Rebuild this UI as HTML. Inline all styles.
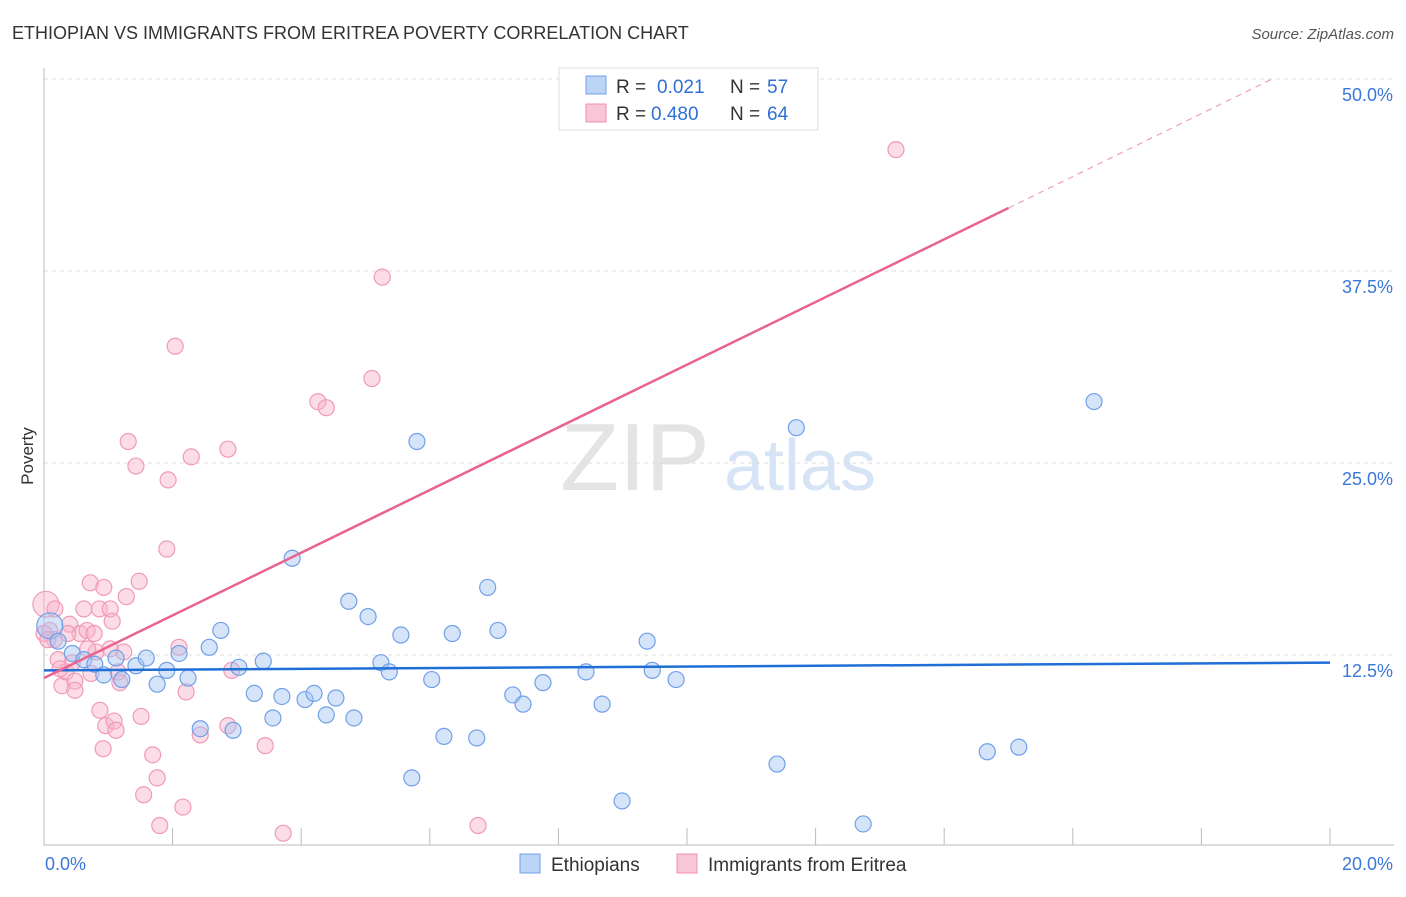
<!DOCTYPE html>
<html><head><meta charset="utf-8"><style>
body{margin:0;background:#fff;font-family:"Liberation Sans",sans-serif}
svg text{font-family:"Liberation Sans",sans-serif}
</style></head><body>
<svg id="chart" width="1406" height="892">
<text x="12" y="39" font-size="18" fill="#333">ETHIOPIAN VS IMMIGRANTS FROM ERITREA POVERTY CORRELATION CHART</text>
<text x="1394" y="39" font-size="15" fill="#555" text-anchor="end" font-style="italic">Source: ZipAtlas.com</text>
<text x="33" y="456" font-size="17" fill="#333" text-anchor="middle" transform="rotate(-90 33 456)">Poverty</text>
<g><text x="635" y="490" font-size="96" fill="#e4e4e4" text-anchor="middle" font-family="Liberation Serif">ZIP</text><text x="800" y="490" font-size="72" fill="#d6e4f5" text-anchor="middle">atlas</text></g>
<g id="grid"></g><g id="axes"></g><g id="pts"></g><g id="lines"></g>
<g>
<rect x="559" y="68" width="259" height="62" fill="#fff" stroke="#ddd"/>
<rect x="586" y="76" width="20" height="18" fill="#bcd4f6" stroke="#6fa0e8"/>
<text x="616" y="93" font-size="19" fill="#333">R =</text><text x="657" y="93" font-size="19" fill="#2f6fd6">0.021</text>
<text x="730" y="93" font-size="19" fill="#333">N =</text><text x="767" y="93" font-size="19" fill="#2f6fd6">57</text>
<rect x="586" y="104" width="20" height="18" fill="#f8c6d6" stroke="#f08fb0"/>
<text x="616" y="120" font-size="19" fill="#333">R =</text><text x="651" y="120" font-size="19" fill="#2f6fd6">0.480</text>
<text x="730" y="120" font-size="19" fill="#333">N =</text><text x="767" y="120" font-size="19" fill="#2f6fd6">64</text>
</g>
<g>
<rect x="520" y="854" width="20" height="19" fill="#bcd4f6" stroke="#6fa0e8"/>
<text x="551" y="871" font-size="19" fill="#333">Ethiopians</text>
<rect x="677" y="854" width="20" height="19" fill="#f8c6d6" stroke="#f08fb0"/>
<text x="708" y="871" font-size="19" fill="#333">Immigrants from Eritrea</text>
</g>
</svg>
<script>
const xTicks=[0,2,4,6,8,10,12,14,16,18,20];
const yTicks=[12.5,25,37.5,50];
const yTickLabels=["12.5%","25.0%","37.5%","50.0%"];
const blueX=[0.09,0.22,0.44,0.62,0.79,0.93,1.12,1.21,1.43,1.59,1.76,1.91,2.1,2.24,2.43,2.57,2.75,2.94,3.03,3.27,3.41,3.56,3.7,3.86,4.06,4.2,4.39,4.54,4.74,4.82,5.04,5.24,5.37,5.55,5.72,5.8,6.03,6.22,6.35,6.73,6.9,7.06,7.29,7.45,7.76,8.43,8.68,8.99,9.38,9.46,9.83,11.4,11.7,12.74,14.67,15.16,16.33];
const blueY=[14.4,13.4,12.6,12.2,11.9,11.2,12.3,10.9,11.8,12.3,10.6,11.5,12.6,11.0,7.7,13.0,14.1,7.6,11.7,10.0,12.1,8.4,9.8,18.8,9.6,10.0,8.6,9.7,16.0,8.4,15.0,12.0,11.4,13.8,4.5,26.4,10.9,7.2,13.9,7.1,16.9,14.1,9.9,9.3,10.7,11.4,9.3,3.0,13.4,11.5,10.9,5.4,27.3,1.5,6.2,6.5,29.0];
const pinkX=[0.03,0.09,0.16,0.22,0.28,0.34,0.40,0.44,0.48,0.56,0.62,0.67,0.72,0.73,0.78,0.81,0.86,0.87,0.92,0.93,0.96,1.03,1.06,1.09,1.12,1.15,1.18,1.24,1.28,1.31,1.43,1.48,1.51,1.55,1.69,1.76,1.8,1.91,1.93,2.04,2.1,2.16,2.21,2.29,2.43,2.86,2.86,2.92,3.44,3.72,4.26,4.39,5.1,5.26,6.75,13.25,0.0,0.06,0.25,0.48,0.68,0.37,1.03,0.17];
const pinkY=[15.8,14.1,13.5,12.2,10.5,11.4,14.5,12.0,10.8,13.9,15.5,14.1,17.2,11.3,13.9,12.7,15.5,8.9,6.4,16.9,7.9,15.5,14.7,8.2,7.6,11.4,10.7,12.7,16.3,26.4,24.8,17.3,8.5,3.4,6.0,4.5,1.4,19.4,23.9,32.6,13.0,2.6,10.1,25.4,7.3,25.9,7.9,11.5,6.6,0.9,28.99,28.6,30.5,37.1,1.4,45.4,13.9,13.5,11.6,10.2,12.9,13.9,12.9,15.5];
const blueFit=[[0,11.5],[20,12.0]];
const pinkFit=[[0,11.0],[15,41.6],[19.1,50]];
const X=v=>44+v*64.3, Y=v=>847-v*15.36;
const NS="http://www.w3.org/2000/svg";
function mk(p,t,a){const e=document.createElementNS(NS,t);for(const k in a)e.setAttribute(k,a[k]);document.getElementById(p).appendChild(e);return e;}
yTicks.forEach((v,i)=>{
 const g=mk('grid','line',{x1:44,x2:1394,y1:Y(v),y2:Y(v),stroke:'#ddd','stroke-dasharray':'4 4'});
 
 
 const t=mk('axes','text',{x:1393,y:Y(v)+22,'font-size':18,fill:'#3a78d8','text-anchor':'end'});t.textContent=yTickLabels[i];
 
 
});
mk('axes','line',{x1:44,x2:44,y1:68,y2:845,stroke:'#bbb'});
mk('axes','line',{x1:44,x2:1394,y1:845,y2:845,stroke:'#bbb'});
xTicks.forEach(v=>{const l=mk('axes','line',{x1:X(v),x2:X(v),y1:828,y2:845,stroke:'#bbb'});
 
 });
let t0=mk('axes','text',{x:45,y:870,'font-size':18,fill:'#3a78d8'});t0.textContent='0.0%';


let t1=mk('axes','text',{x:1393,y:870,'font-size':18,fill:'#3a78d8','text-anchor':'end'});t1.textContent='20.0%';


function pts(xs,ys,fill,stroke,name){xs.forEach((x,i)=>{const c=mk('pts','circle',{cx:X(x),cy:Y(ys[i]),r:i==0?13:8,fill:fill,stroke:stroke,'stroke-width':1.2});
 
 });}
pts(pinkX,pinkY,'rgba(248,180,202,0.45)','#f09ab6','eritrea-point');
pts(blueX,blueY,'rgba(164,196,244,0.45)','#6fa0e8','ethiopian-point');
const bl=mk('lines','line',{x1:X(blueFit[0][0]),y1:Y(blueFit[0][1]),x2:X(blueFit[1][0]),y2:Y(blueFit[1][1]),stroke:'#1f6fd6','stroke-width':2.5});


const pl=mk('lines','line',{x1:X(pinkFit[0][0]),y1:Y(pinkFit[0][1]),x2:X(pinkFit[1][0]),y2:Y(pinkFit[1][1]),stroke:'#e8648f','stroke-width':2.5});


const pd=mk('lines','line',{x1:X(pinkFit[1][0]),y1:Y(pinkFit[1][1]),x2:X(pinkFit[2][0]),y2:Y(pinkFit[2][1]),stroke:'#f0a0b8','stroke-width':1.2,'stroke-dasharray':'6 5'});


</script>
</body></html>
